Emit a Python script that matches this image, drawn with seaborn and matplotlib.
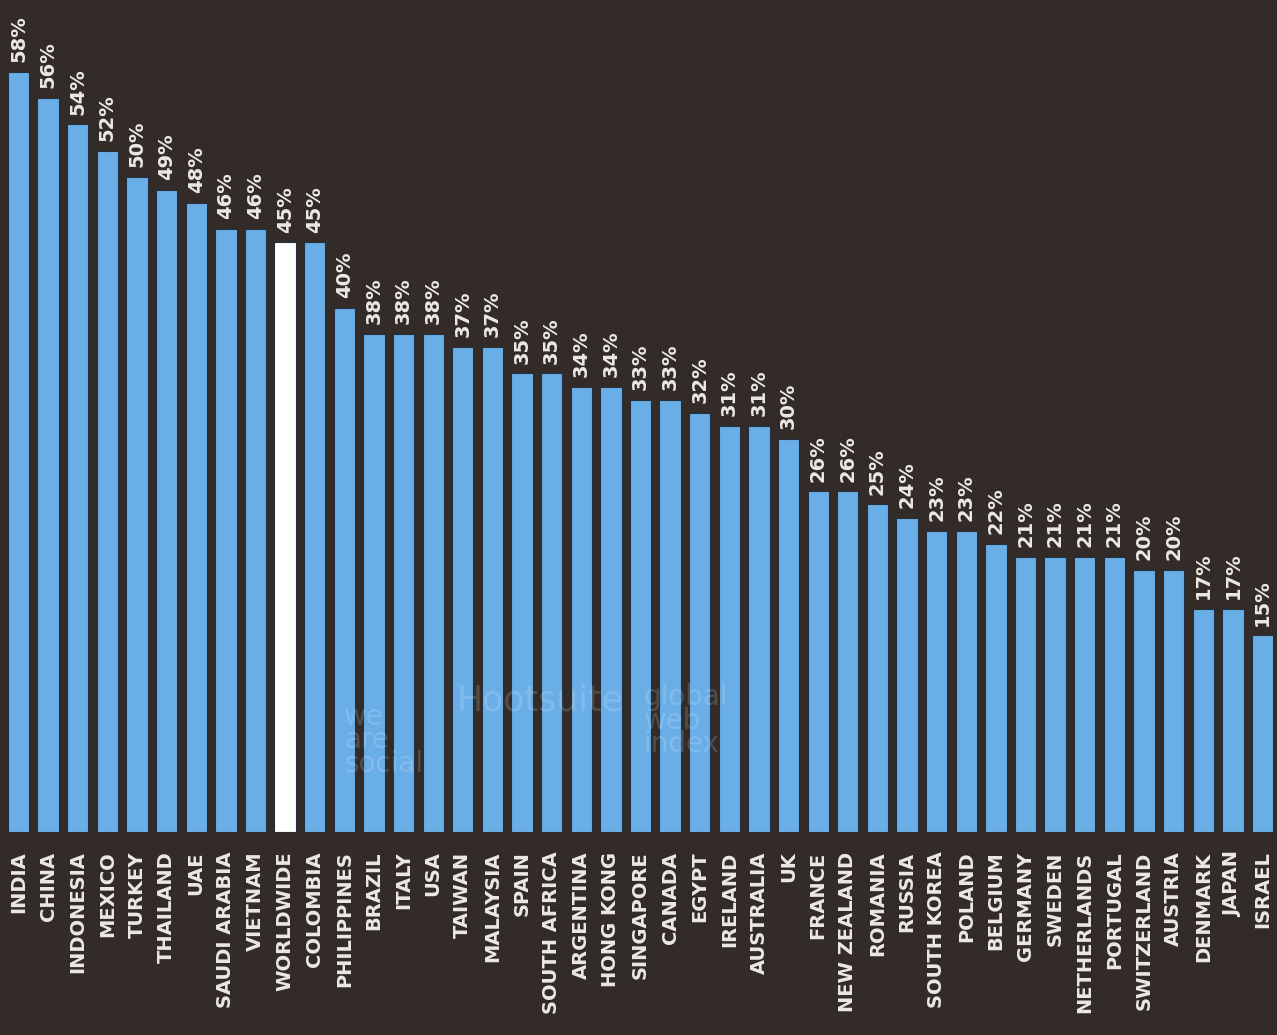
import matplotlib
matplotlib.use("Agg")
import matplotlib.pyplot as plt
import seaborn as sns
import pandas as pd

countries = [
    "INDIA", "CHINA", "INDONESIA", "MEXICO", "TURKEY", "THAILAND", "UAE",
    "SAUDI ARABIA", "VIETNAM", "WORLDWIDE", "COLOMBIA", "PHILIPPINES", "BRAZIL",
    "ITALY", "USA", "TAIWAN", "MALAYSIA", "SPAIN", "SOUTH AFRICA", "ARGENTINA",
    "HONG KONG", "SINGAPORE", "CANADA", "EGYPT", "IRELAND", "AUSTRALIA", "UK",
    "FRANCE", "NEW ZEALAND", "ROMANIA", "RUSSIA", "SOUTH KOREA", "POLAND",
    "BELGIUM", "GERMANY", "SWEDEN", "NETHERLANDS", "PORTUGAL", "SWITZERLAND",
    "AUSTRIA", "DENMARK", "JAPAN", "ISRAEL",
]
shares = [
    58, 56, 54, 52, 50, 49, 48, 46, 46, 45, 45, 40, 38, 38, 38, 37, 37, 35, 35,
    34, 34, 33, 33, 32, 31, 31, 30, 26, 26, 25, 24, 23, 23, 22, 21, 21, 21, 21,
    20, 20, 17, 17, 15,
]
highlight = "WORLDWIDE"

BG = "#332b27"
BAR = "#6aaee8"
HIGHLIGHT = "#ffffff"
TEXT = "#ece8e4"

df = pd.DataFrame({"country": countries, "share": shares})
palette = {c: (HIGHLIGHT if c == highlight else BAR) for c in countries}

sns.set_theme(style="white")
plt.rcParams["font.family"] = ["DejaVu Sans"]

fig = plt.figure(figsize=(12.77, 10.35), dpi=100, facecolor=BG)
ax = fig.add_axes([0, 1 - 832 / 1035, 1, 832 / 1035])
ax.set_facecolor(BG)

sns.barplot(data=df, x="country", y="share", hue="country", palette=palette,
            legend=False, width=0.72, saturation=1, ax=ax,
            edgecolor="#24303f", linewidth=0.8)

for i, v in enumerate(shares):
    ax.text(i, v + 0.75, f"{v}%", rotation=90, ha="center", va="bottom",
            color=TEXT, fontsize=14, fontweight="bold")

ax.set_xlim(-0.625, 42.49)
ax.set_ylim(0, 63.5)
ax.set_xlabel("")
ax.set_ylabel("")
ax.set_yticks([])
ax.set_xticks(range(len(countries)))
ax.set_xticklabels(countries, rotation=90, color=TEXT, fontsize=14,
                   fontweight="bold", va="top", ha="center")
ax.tick_params(axis="x", length=0, pad=14)
for s in ax.spines.values():
    s.set_visible(False)

# faint sponsor watermarks over the bars
wm = dict(color="white", alpha=0.16, transform=ax.transData, zorder=5)
ax.text(11.0, 7.0, "we\nare\nsocial", fontsize=20, ha="left", va="center",
        linespacing=0.8, **wm)
ax.text(14.8, 10.0, "Hootsuite", fontsize=25, ha="left", va="center", **wm)
ax.text(21.1, 8.5, "global\nweb\nindex", fontsize=20, ha="left", va="center",
        linespacing=0.8, **wm)

fig.savefig("out.png", dpi=100, facecolor=BG)
